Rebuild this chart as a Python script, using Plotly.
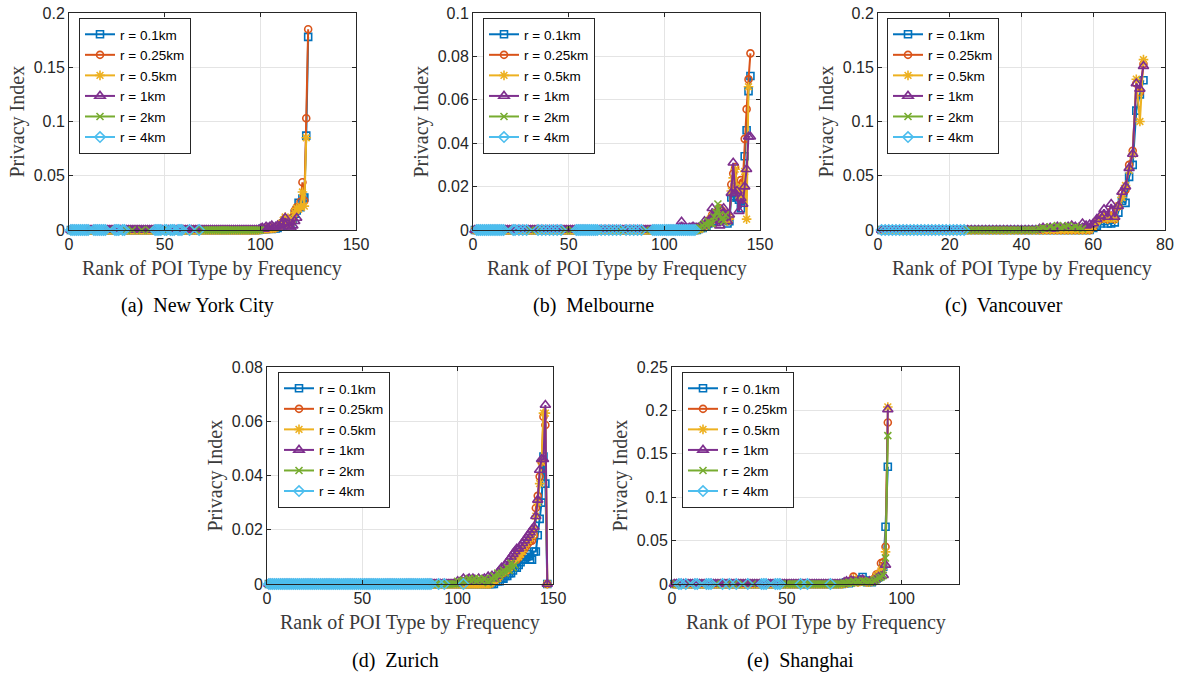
import plotly.graph_objects as go

radii = ["r = 0.1km", "r = 0.25km", "r = 0.5km", "r = 1km", "r = 2km", "r = 4km"]
colors = ["#0072BD", "#D95319", "#EDB120", "#7E2F8E", "#77AC30", "#4DBEEE"]
symbols = ["square-open", "circle-open", "asterisk-open", "triangle-up-open", "x-thin-open", "diamond-open"]
marker_sizes = [7, 7, 8, 9, 7, 8]

captions = ["(a)  New York City", "(b)  Melbourne", "(c)  Vancouver", "(d)  Zurich", "(e)  Shanghai"]
x_ranges = [[0, 150], [0, 150], [0, 80], [0, 150], [0, 125]]
x_ticks = [[0, 50, 100, 150], [0, 50, 100, 150], [0, 20, 40, 60, 80], [0, 50, 100, 150], [0, 50, 100]]
y_ranges = [[0, 0.2], [0, 0.1], [0, 0.2], [0, 0.08], [0, 0.25]]
y_ticks = [[0, 0.05, 0.1, 0.15, 0.2], [0, 0.02, 0.04, 0.06, 0.08, 0.1], [0, 0.05, 0.1, 0.15, 0.2],
           [0, 0.02, 0.04, 0.06, 0.08], [0, 0.05, 0.1, 0.15, 0.2, 0.25]]
y_ticktext = [["0", "0.05", "0.1", "0.15", "0.2"], ["0", "0.02", "0.04", "0.06", "0.08", "0.1"],
              ["0", "0.05", "0.1", "0.15", "0.2"], ["0", "0.02", "0.04", "0.06", "0.08"],
              ["0", "0.05", "0.1", "0.15", "0.2", "0.25"]]


def gaps(ranks, last):
    # zero at the ranks that have a point, no point elsewhere
    s = set(ranks)
    return [0.0 if r in s else None for r in range(1, last + 1)]


# ---- (a) New York City, values by rank (1, 2, ...)
nyc_01 = [0] * 99 + [0.0005, 0.001, 0.0008, 0.001, 0.0012, 0.0015, 0.001, 0.002, 0.0015, 0.002,
                     0.003, 0.004, 0.006, 0.009, 0.006, 0.005, 0.007, 0.01, 0.015, 0.018,
                     0.025, 0.021, 0.029, 0.03, 0.087, 0.178]
nyc_025 = [0] * 99 + [0.0005, 0.0008, 0.001, 0.001, 0.0015, 0.001, 0.002, 0.0015, 0.002, 0.003,
                      0.003, 0.005, 0.008, 0.011, 0.007, 0.006, 0.008, 0.012, 0.018, 0.021,
                      0.02, 0.026, 0.044, 0.027, 0.103, 0.185]
nyc_05 = [0] * 99 + [0.0005, 0.001, 0.001, 0.0012, 0.001, 0.002, 0.0015, 0.002, 0.002, 0.003,
                     0.004, 0.006, 0.009, 0.012, 0.008, 0.005, 0.007, 0.01, 0.016, 0.02,
                     0.019, 0.022, 0.035, 0.022, 0.085]
nyc_1 = [0] * 99 + [0.001, 0.002, 0.001, 0.003, 0.002, 0.003, 0.004, 0.002, 0.003, 0.004,
                    0.003, 0.005, 0.007, 0.011, 0.006, 0.003, 0.002, 0.004, 0.008, 0.011]
nyc_2_ranks = [3, 12, 21, 30, 33, 38, 42, 52, 60, 66] + list(range(70, 101))
nyc_4_ranks = list(range(1, 11)) + list(range(13, 20)) + [24, 25, 26, 28, 29] + \
    [45, 46, 47, 48, 50, 51, 53, 54, 55, 57, 58, 59, 63, 68]
nyc_2 = gaps(nyc_2_ranks, 100)
nyc_4 = gaps(nyc_4_ranks, 68)

# ---- (b) Melbourne
mel_01 = [0] * 117 + [0.0005, 0.001, 0.001, 0.002, 0.002, 0.003, 0.004, 0.005, 0.004, 0.006,
                      0.005, 0.008, 0.007, 0.006, 0.005, 0.003, 0.004, 0.015, 0.0157, 0.02,
                      0.015, 0.014, 0.01, 0.014, 0.034, 0.046, 0.064, 0.071]
mel_025 = [0] * 117 + [0.0005, 0.001, 0.0015, 0.002, 0.003, 0.003, 0.005, 0.007, 0.006, 0.008,
                       0.007, 0.01, 0.009, 0.008, 0.007, 0.005, 0.006, 0.021, 0.026, 0.029,
                       0.02, 0.017, 0.023, 0.022, 0.042, 0.0557, 0.0694, 0.0814]
mel_05 = [0] * 117 + [0.0005, 0.001, 0.001, 0.002, 0.002, 0.004, 0.005, 0.006, 0.005, 0.007,
                      0.006, 0.009, 0.008, 0.007, 0.006, 0.004, 0.005, 0.018, 0.024, 0.028,
                      0.019, 0.016, 0.02, 0.016, 0.027, 0.005, 0.066]
mel_1 = [0] * 107 + [0.001, 0.0038, 0.001, 0.001, 0.0005, 0.001, 0.001, 0.0015, 0.001, 0.001,
                     0.001, 0.0015, 0.002, 0.004, 0.003, 0.004, 0.005, 0.01, 0.006, 0.003,
                     0.005, 0.002, 0.009, 0.01, 0.006, 0.004, 0.007, 0.017, 0.031, 0.017,
                     0.018, 0.0087, 0.0146, 0.012, 0.02, 0.028, 0.043, 0.043]
mel_2_ranks = [4, 9, 18, 30, 35, 48, 52, 60, 66, 72, 76, 79, 83, 90]
mel_2 = gaps(mel_2_ranks, 94) + [0] * 23 + [0.001, 0.001, 0.002, 0.003, 0.002, 0.004, 0.003,
                                            0.003, 0.006, 0.008, 0.012, 0.007, 0.005, 0.004, 0.007]
mel_4_ranks = list(range(2, 17)) + [21, 22, 24, 26, 28] + [34, 36, 38, 40, 42, 44, 46] + \
    list(range(54, 66)) + [67, 69, 71, 73, 75, 77, 80, 82, 84, 86, 88] + list(range(94, 117))
mel_4 = gaps(mel_4_ranks, 116)

# ---- (c) Vancouver
van_01 = [0] * 59 + [0.002, 0.004, 0.006, 0.008, 0.006, 0.006, 0.007, 0.016, 0.027, 0.025,
                     0.049, 0.06, 0.11, 0.125, 0.138]
van_025 = [0] * 59 + [0.003, 0.008, 0.01, 0.012, 0.01, 0.017, 0.01, 0.022, 0.034, 0.037,
                      0.06, 0.073, 0.135, 0.127, 0.153]
van_05 = [0] * 59 + [0.003, 0.008, 0.01, 0.014, 0.01, 0.012, 0.01, 0.022, 0.03, 0.041,
                     0.055, 0.07, 0.139, 0.1, 0.157]
van_1 = [0] * 44 + [0.001, 0.002, 0.001, 0.002, 0.001, 0.003, 0.002, 0.002, 0.003, 0.004,
                    0.003, 0.002, 0.006, 0.004, 0.005, 0.006, 0.01, 0.013, 0.019, 0.012,
                    0.024, 0.012, 0.022, 0.035, 0.04, 0.057, 0.07, 0.135, 0.13, 0.151]
van_2 = [None] * 24 + [0] * 20 + [0.001, 0.002, 0.001, 0.003, 0.002, 0.004, 0.002, 0.003,
                                  0.004, 0.002, 0.003, 0.002, 0.001]
van_4 = [0] * 24

# ---- (d) Zurich
zur_01 = [0] * 117 + [0, 0, 0.001, 0.001, 0.001, 0.002, 0.002, 0.003, 0.003, 0.004,
                      0.004, 0.005, 0.006, 0.006, 0.007, 0.008, 0.009, 0.009, 0.01, 0.011,
                      0.009, 0.009, 0.012, 0.012, 0.018, 0.024, 0.03, 0.047, 0.037, 0]
zur_025 = [0] * 117 + [0.001, 0.001, 0.002, 0.002, 0.003, 0.004, 0.004, 0.005, 0.005, 0.006,
                       0.007, 0.008, 0.009, 0.009, 0.01, 0.011, 0.012, 0.013, 0.014, 0.015,
                       0.016, 0.016, 0.018, 0.028, 0.0325, 0.0396, 0.045, 0.0617, 0.0586, 0]
zur_05 = [0] * 117 + [0.001, 0.001, 0.002, 0.002, 0.003, 0.004, 0.005, 0.005, 0.006, 0.006,
                      0.007, 0.008, 0.009, 0.01, 0.01, 0.011, 0.012, 0.014, 0.015, 0.016,
                      0.017, 0.018, 0.02, 0.025, 0.03, 0.037, 0.045, 0.063, 0.063, 0]
zur_1 = [0] * 99 + [0.001, 0.0005, 0.001, 0.002, 0.001, 0.0015, 0.002, 0.001, 0.002, 0.0015,
                    0.001, 0.002, 0.001, 0.0015, 0.002, 0.001, 0.0027, 0.002,
                    0.003, 0.002, 0.003, 0.004, 0.005, 0.006, 0.006, 0.007, 0.008, 0.009,
                    0.01, 0.011, 0.012, 0.013, 0.013, 0.014, 0.015, 0.016, 0.017, 0.018,
                    0.019, 0.02, 0.021, 0.025, 0.031, 0.042, 0.046, 0.046, 0.066, 0]
zur_2 = [0] * 99 + [0.001, 0.0005, 0.001, 0.0015, 0.001, 0.001, 0.002, 0.001, 0.0015, 0.002,
                    0.001, 0.002, 0.0015, 0.001, 0.002, 0.001, 0.0005, 0.001, 0.002, 0.003,
                    0.002, 0.004, 0.003, 0.004, 0.005, 0.004, 0.006, 0.005, 0.0077, 0.006,
                    0.007]
zur_4_ranks = list(range(1, 87)) + [90, 93, 103]
zur_4 = gaps(zur_4_ranks, 103)

# ---- (e) Shanghai
sh_01 = [0] * 74 + [0.001, 0.002, 0.001, 0.002, 0.003, 0.004, 0.003, 0.005, 0.008, 0.004,
                    0.002, 0.003, 0.002, 0.004, 0.006, 0.008, 0.01, 0.02, 0.066, 0.135]
sh_025 = [0] * 74 + [0.001, 0.001, 0.002, 0.003, 0.0085, 0.004, 0.002, 0.003, 0.004, 0.003,
                     0.002, 0.003, 0.004, 0.006, 0.011, 0.012, 0.024, 0.025, 0.043, 0.186]
sh_05 = [0] * 74 + [0.001, 0.001, 0.002, 0.002, 0.006, 0.003, 0.002, 0.003, 0.004, 0.003,
                    0.002, 0.002, 0.003, 0.005, 0.009, 0.011, 0.015, 0.02, 0.037, 0.204]
sh_1 = [0] * 74 + [0.002, 0.003, 0.002, 0.004, 0.003, 0.002, 0.003, 0.004, 0.005, 0.003,
                   0.002, 0.003, 0.002, 0.004, 0.006, 0.008, 0.009, 0.01, 0.022, 0.201]
sh_2_ranks = [2, 8, 13, 19, 24, 27, 31, 35, 43, 48]
sh_2 = gaps(sh_2_ranks, 49) + [0] * 25 + [0.001, 0.001, 0.002, 0.001, 0.003, 0.002, 0.003,
                                          0.002, 0.004, 0.003, 0.002, 0.003, 0.002, 0.004,
                                          0.005, 0.007, 0.008, 0.01, 0.03, 0.171]
sh_4_ranks = [3, 4, 6, 10, 11, 15, 16, 17, 22, 25, 28, 33, 39, 40, 41, 45, 46, 47, 56, 59, 69]
sh_4 = gaps(sh_4_ranks, 69)

city_series = [
    [nyc_01, nyc_025, nyc_05, nyc_1, nyc_2, nyc_4],
    [mel_01, mel_025, mel_05, mel_1, mel_2, mel_4],
    [van_01, van_025, van_05, van_1, van_2, van_4],
    [zur_01, zur_025, zur_05, zur_1, zur_2, zur_4],
    [sh_01, sh_025, sh_05, sh_1, sh_2, sh_4],
]

W, H = 1177, 675
# plot boxes in pixels: left, right, top, bottom
boxes = [(69, 356, 13, 230), (473, 760, 13, 230), (878, 1165, 13, 230),
         (267, 553, 367, 584), (672, 959, 367, 584)]
legend_pos = [(79, 18), (483, 18), (887, 18), (278, 372), (682, 372)]
caption_pos = [(197, 305), (593, 305), (1004, 305), (395, 660), (800, 660)]

fig = go.Figure()

for k, series in enumerate(city_series):
    ax = "" if k == 0 else str(k + 1)
    leg = "legend" if k == 0 else "legend" + str(k + 1)
    for j, y in enumerate(series):
        fig.add_trace(go.Scatter(
            x=list(range(1, len(y) + 1)), y=y,
            mode="lines+markers",
            name=radii[j],
            line=dict(color=colors[j], width=2),
            marker=dict(symbol=symbols[j], size=marker_sizes[j], color=colors[j],
                        line=dict(width=1.6, color=colors[j])),
            cliponaxis=False,
            xaxis="x" + ax, yaxis="y" + ax,
            legend=leg,
        ))

axis_common = dict(
    showline=True, linecolor="#262626", linewidth=1, mirror="ticks",
    ticks="inside", ticklen=4, tickcolor="#262626",
    showgrid=True, gridcolor="#e4e4e4", gridwidth=1, zeroline=False,
    tickfont=dict(family="Liberation Sans, Arial, sans-serif", size=16, color="#262626"),
)

layout = dict(
    width=W, height=H,
    margin=dict(l=0, r=0, t=0, b=0),
    paper_bgcolor="white", plot_bgcolor="white",
    annotations=[],
)

label_font = dict(family="Liberation Serif, Times New Roman, serif", size=20, color="#3a3a3a")

for k in range(5):
    ax = "" if k == 0 else str(k + 1)
    l, r, t, b = boxes[k]
    layout["xaxis" + ax] = dict(
        axis_common, domain=[l / W, r / W], range=x_ranges[k],
        tickvals=x_ticks[k], anchor="y" + ax, automargin=False,
    )
    layout["yaxis" + ax] = dict(
        axis_common, domain=[1 - b / H, 1 - t / H], range=y_ranges[k],
        tickvals=y_ticks[k], ticktext=y_ticktext[k], anchor="x" + ax, automargin=False,
    )
    lx, ly = legend_pos[k]
    layout["legend" if k == 0 else "legend" + str(k + 1)] = dict(
        x=lx / W, y=1 - ly / H, xanchor="left", yanchor="top",
        bgcolor="white", bordercolor="#262626", borderwidth=1,
        font=dict(family="Liberation Sans, Arial, sans-serif", size=13.5, color="black"),
        tracegroupgap=0, itemwidth=30,
    )
    # axis titles
    layout["annotations"].append(dict(
        text="Rank of POI Type by Frequency", xref="paper", yref="paper",
        x=(l + r) / 2 / W, y=1 - (b + 38) / H, xanchor="center", yanchor="middle",
        showarrow=False, font=label_font,
    ))
    layout["annotations"].append(dict(
        text="Privacy Index", xref="paper", yref="paper",
        x=(l - 52) / W, y=1 - (t + b) / 2 / H, xanchor="center", yanchor="middle",
        textangle=-90, showarrow=False, font=label_font,
    ))
    cx, cy = caption_pos[k]
    layout["annotations"].append(dict(
        text=captions[k], xref="paper", yref="paper",
        x=cx / W, y=1 - cy / H, xanchor="center", yanchor="middle",
        showarrow=False, font=dict(family="Liberation Serif, Times New Roman, serif", size=20, color="black"),
    ))

fig.update_layout(layout)
fig.write_html("out.html", config={"displayModeBar": False},
               post_script="document.body.style.margin='0';")
